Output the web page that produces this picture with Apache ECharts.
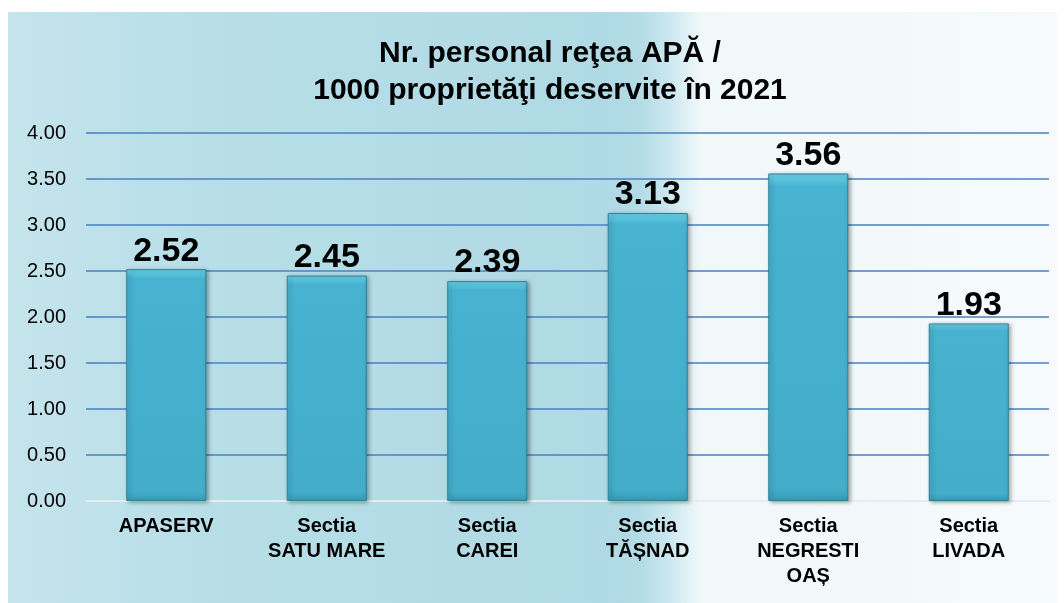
<!DOCTYPE html>
<html>
<head>
<meta charset="utf-8">
<script src="https://cdn.jsdelivr.net/npm/echarts@6/dist/echarts.min.js"></script>
<style>
  html, body { margin: 0; padding: 0; background: #fff; }
  #chart { width: 1064px; height: 603px; }
</style>
</head>
<body>
<div id="chart"></div>
<script>
// categorii si valori
const categories = ['APASERV', 'Sectia\nSATU MARE', 'Sectia\nCAREI', 'Sectia\nTĂȘNAD', 'Sectia\nNEGRESTI\nOAȘ', 'Sectia\nLIVADA'];
const values = [2.52, 2.45, 2.39, 3.13, 3.56, 1.93];
const titleLines = ['Nr. personal reţea APĂ /', '1000 proprietăţi deservite în 2021'];

const FONT = 'Liberation Sans, Arial, sans-serif';
const chart = echarts.init(document.getElementById('chart'));

const option = {
  animation: false,
  textStyle: { fontFamily: FONT },
  graphic: [{
    type: 'rect',
    z: -10,
    silent: true,
    shape: { x: 8, y: 12, width: 1049, height: 591 },
    style: {
      fill: new echarts.graphic.LinearGradient(0, 0, 1, 0, [
        { offset: 0, color: '#c5e4ec' },
        { offset: 0.18, color: '#b8dfe8' },
        { offset: 0.57, color: '#afd9e4' },
        { offset: 0.60, color: '#b2dbe6' },
        { offset: 0.63, color: '#cbe7ef' },
        { offset: 0.66, color: '#f0f8fa' },
        { offset: 1, color: '#f6fafc' }
      ])
    }
  }],
  title: {
    text: titleLines.join('\n'),
    left: 545,
    top: 30,
    textAlign: 'center',
    textStyle: { fontSize: 30, fontWeight: 'bold', color: '#000', lineHeight: 37, fontFamily: FONT }
  },
  grid: { left: 86, right: 15, top: 133, bottom: 102 },
  xAxis: {
    type: 'category',
    data: categories,
    axisTick: { show: false },
    axisLine: { show: true, lineStyle: { color: '#e4eef1', width: 2 } },
    axisLabel: {
      color: '#000', fontSize: 20, fontWeight: 'bold', lineHeight: 25, margin: 13,
      fontFamily: FONT
    }
  },
  yAxis: {
    type: 'value',
    min: 0, max: 4, interval: 0.5,
    axisLine: { show: false },
    axisTick: { show: false },
    axisLabel: {
      color: '#000', fontSize: 20, margin: 20,
      formatter: v => v.toFixed(2),
      fontFamily: FONT
    },
    splitLine: { lineStyle: { color: '#4a7fc0', width: 1.5 } }
  },
  series: [{
    type: 'bar',
    data: values,
    barWidth: 80,
    itemStyle: {
      color: new echarts.graphic.LinearGradient(0, 0, 0, 1, [
        { offset: 0, color: '#6cd3ec' },
        { offset: 0.04, color: '#47b3d0' },
        { offset: 0.96, color: '#43adca' },
        { offset: 1, color: '#3a9bb6' }
      ]),
      borderColor: '#2f8299',
      borderWidth: 1,
      shadowColor: 'rgba(0,0,0,0.35)',
      shadowBlur: 4,
      shadowOffsetX: 2,
      shadowOffsetY: 1
    },
    label: {
      show: true,
      position: 'top',
      distance: 1,
      color: '#000',
      fontSize: 34,
      fontWeight: 'bold',
      formatter: p => p.value.toFixed(2),
      fontFamily: FONT
    }
  }]
};

chart.setOption(option);
</script>
</body>
</html>
